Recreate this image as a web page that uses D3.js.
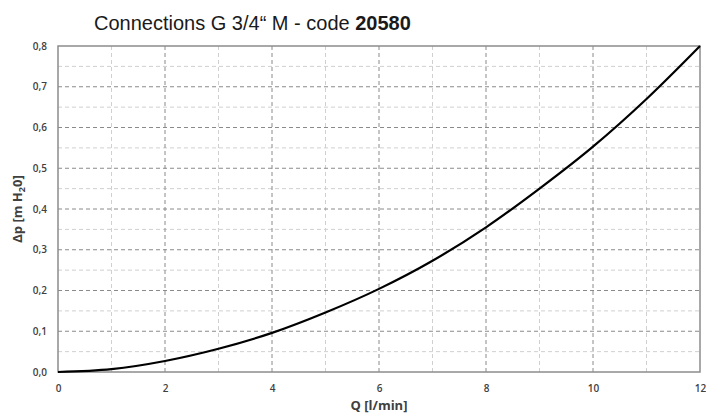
<!DOCTYPE html>
<html><head><meta charset="utf-8">
<script src="https://cdn.jsdelivr.net/npm/d3@7"></script>
<style>body{margin:0;background:#fff}svg{display:block}</style>
</head><body>
<svg id="c" width="706" height="414"></svg>
<script>
const flow = [0,1,2,3,4,5,6,7,8,9,10,11,12];
const dp   = [0,0.007,0.027,0.057,0.096,0.146,0.204,0.273,0.355,0.450,0.553,0.670,0.800];
const xTicks = [0,2,4,6,8,10,12];
const yTicks = [0,0.1,0.2,0.3,0.4,0.5,0.6,0.7,0.8];
const xMinor = [1,3,5,7,9,11];
const yMinor = [0.05,0.15,0.25,0.35,0.45,0.55,0.65,0.75];
const titleText = "Connections G 3/4\u201C M - code ";
const titleBold = "20580";

const svg = d3.select("#c");
const L=58,R=700,T=46,B=372;
const x = d3.scaleLinear().domain([0,12]).range([L,R]);
const y = d3.scaleLinear().domain([0,0.8]).range([B,T]);
const fmt = d => d3.format(".1f")(d).replace(".",",");

const g = svg.append("g");
// minor grid
g.selectAll(".xm").data(xMinor).enter().append("line")
 .attr("x1",d=>x(d)).attr("x2",d=>x(d)).attr("y1",T).attr("y2",B)
 .attr("stroke","#d0d0d0").attr("stroke-width",1).attr("stroke-dasharray","4,3");
g.selectAll(".ym").data(yMinor).enter().append("line")
 .attr("x1",L).attr("x2",R).attr("y1",d=>y(d)).attr("y2",d=>y(d))
 .attr("stroke","#d0d0d0").attr("stroke-width",1).attr("stroke-dasharray","4,3");
// major grid
g.selectAll(".xg").data(xTicks.slice(1,-1)).enter().append("line")
 .attr("x1",d=>x(d)).attr("x2",d=>x(d)).attr("y1",T).attr("y2",B)
 .attr("stroke","#8a8a8a").attr("stroke-width",1).attr("stroke-dasharray","4,3");
g.selectAll(".yg").data(yTicks.slice(1,-1)).enter().append("line")
 .attr("x1",L).attr("x2",R).attr("y1",d=>y(d)).attr("y2",d=>y(d))
 .attr("stroke","#8a8a8a").attr("stroke-width",1).attr("stroke-dasharray","4,3");
// frame
svg.append("rect").attr("x",L).attr("y",T).attr("width",R-L).attr("height",B-T)
 .attr("fill","none").attr("stroke","#8c8c8c").attr("stroke-width",1.5);

// axes
const xa = svg.append("g").attr("transform",`translate(0,${B})`)
 .call(d3.axisBottom(x).tickValues(xTicks).tickSize(0).tickPadding(13).tickFormat(d=>d));
const ya = svg.append("g").attr("transform",`translate(${L},0)`)
 .call(d3.axisLeft(y).tickValues(yTicks).tickSize(0).tickPadding(11).tickFormat(fmt));
[xa,ya].forEach(a=>{a.select(".domain").remove();
 a.selectAll("text").attr("font-family","'Open Sans', sans-serif").attr("font-weight",600)
  .attr("font-size","10px").attr("fill","#404040");});

// curve
svg.append("path").datum(flow.map((q,i)=>[q,dp[i]]))
 .attr("d",d3.line().x(d=>x(d[0])).y(d=>y(d[1])).curve(d3.curveMonotoneX))
 .attr("fill","none").attr("stroke","#000").attr("stroke-width",2.2);

// labels
svg.append("text").attr("x",(L+R)/2).attr("y",410).attr("text-anchor","middle")
 .attr("font-family","'Open Sans', sans-serif").attr("font-weight",700).attr("font-size","13px")
 .attr("fill","#404040").text("Q [l/min]");
const yl = svg.append("text").attr("transform",`translate(22,${(T+B)/2}) rotate(-90)`)
 .attr("text-anchor","middle").attr("font-family","'Open Sans', sans-serif")
 .attr("font-weight",700).attr("font-size","13px").attr("fill","#404040");
yl.append("tspan").text("\u0394p [m H");
yl.append("tspan").attr("font-size","9px").attr("dy",3).text("2");
yl.append("tspan").attr("dy",-3).text("0]");

const t = svg.append("text").attr("x",94).attr("y",30)
 .attr("font-family","'Liberation Sans', Arial, sans-serif").attr("font-size","20px").attr("fill","#1a1a1a");
t.append("tspan").text(titleText);
t.append("tspan").attr("font-weight","bold").text(titleBold);
</script>
</body></html>
